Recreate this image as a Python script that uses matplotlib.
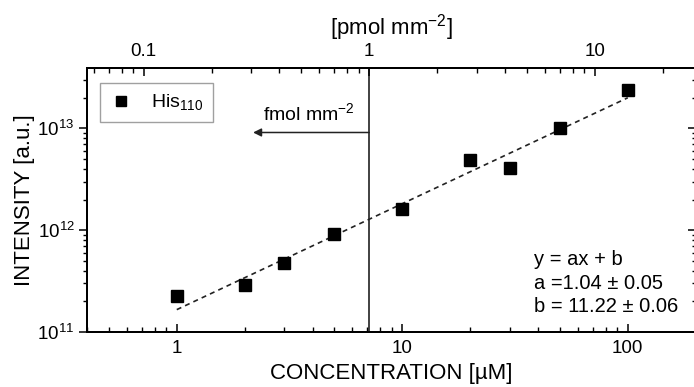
import matplotlib
matplotlib.use("Agg")
import matplotlib.pyplot as plt
import numpy as np
from matplotlib.ticker import LogLocator, NullFormatter, FixedLocator, FixedFormatter

plt.rcParams['font.family'] = ['Liberation Sans', 'DejaVu Sans']
plt.rcParams['mathtext.fontset'] = 'custom'
plt.rcParams['mathtext.rm'] = 'Liberation Sans'
plt.rcParams['mathtext.it'] = 'Liberation Sans:italic'
plt.rcParams['mathtext.bf'] = 'Liberation Sans:bold'

# Data
concentration = [1, 2, 3, 5, 10, 20, 30, 50, 100]          # µM
intensity = [2.25e11, 2.9e11, 4.8e11, 9.2e11, 1.6e12, 4.85e12, 4.1e12, 1.01e13, 2.4e13]
fit_a, fit_b = 1.04, 11.22
fit_x = [1, 100]
conv = 7.13   # µM per pmol mm^-2 (top axis conversion)
top_ticks = [0.1, 1, 10]
top_labels = ["0.1", "1", "10"]
bottom_ticks = [1, 10, 100]
bottom_labels = ["1", "10", "100"]

xlim = (0.4, 200)
ylim = (1e11, 3.9e13)

fig = plt.figure(figsize=(6.94, 3.87), dpi=100)
ax = fig.add_axes([0.1254, 0.142, 0.877, 0.682])
ax.set_xscale('log')
ax.set_yscale('log')
ax.set_xlim(*xlim)
ax.set_ylim(*ylim)

fx = np.array(fit_x, dtype=float)
ax.plot(fx, 10 ** (fit_a * np.log10(fx) + fit_b), ls=(0, (3, 2.5)), color='#222222', lw=1.2, zorder=2)
ax.plot(concentration, intensity, 's', color='black', ms=9.2, label='His$_{110}$', zorder=3)

# vertical line at 1 pmol mm^-2
ax.axvline(conv * 1, color='#333333', lw=1.3, zorder=1)
ax.annotate('', xy=(2.18, 9.1e12), xytext=(conv, 9.1e12),
            arrowprops=dict(arrowstyle='-|>', color='#222222', lw=1.1,
                            mutation_scale=12, shrinkA=0, shrinkB=0))
ax.text(3.85, 1.4e13, 'fmol mm$^{-2}$', fontsize=14, ha='center', va='center')

ax.text(0.735, 0.31, 'y = ax + b\na =1.04 ± 0.05\nb = 11.22 ± 0.06',
        transform=ax.transAxes, fontsize=14.5, ha='left', va='top', linespacing=1.3)

leg = ax.legend(loc='upper left', bbox_to_anchor=(0.022, 0.945), fontsize=14,
                frameon=True, fancybox=False, edgecolor='#888888', handletextpad=1.0,
                borderpad=0.5, handlelength=1.1, markerscale=0.85, borderaxespad=0)
leg.get_frame().set_linewidth(1.0)

ax.set_xticks(bottom_ticks)
ax.set_xticklabels(bottom_labels)
ax.xaxis.set_minor_locator(LogLocator(base=10, subs=np.arange(2, 10)))
ax.xaxis.set_minor_formatter(NullFormatter())
ax.yaxis.set_major_locator(LogLocator(base=10, numticks=10))
ax.yaxis.set_minor_locator(LogLocator(base=10, subs=np.arange(2, 10), numticks=10))
ax.yaxis.set_minor_formatter(NullFormatter())

ax.tick_params(axis='x', which='major', direction='in', length=6, width=1.1, labelsize=13.5, pad=6)
ax.tick_params(axis='x', which='minor', direction='in', length=3.5, width=1.0)
ax.tick_params(axis='y', which='major', direction='out', length=6, width=1.1, labelsize=13.5, pad=3)
ax.tick_params(axis='y', which='minor', direction='out', length=3, width=1.0)

ax.set_xlabel('CONCENTRATION [µM]', fontsize=16, labelpad=4)
ax.set_ylabel('INTENSITY [a.u.]', fontsize=16, labelpad=2)

for s in ax.spines.values():
    s.set_linewidth(1.3)

# right axis ticks (inward)
axr = ax.twinx()
axr.set_yscale('log')
axr.set_ylim(*ylim)
axr.yaxis.set_major_locator(LogLocator(base=10, numticks=10))
axr.yaxis.set_minor_locator(LogLocator(base=10, subs=np.arange(2, 10), numticks=10))
axr.yaxis.set_major_formatter(NullFormatter())
axr.yaxis.set_minor_formatter(NullFormatter())
axr.tick_params(axis='y', which='major', direction='in', length=6, width=1.1)
axr.tick_params(axis='y', which='minor', direction='in', length=3, width=1.0)

# top axis in pmol mm^-2
axt = ax.twiny()
axt.set_xscale('log')
axt.set_xlim(xlim[0] / conv, xlim[1] / conv)
axt.xaxis.set_major_locator(FixedLocator(top_ticks))
axt.xaxis.set_major_formatter(FixedFormatter(top_labels))
axt.xaxis.set_minor_locator(LogLocator(base=10, subs=np.arange(2, 10)))
axt.xaxis.set_minor_formatter(NullFormatter())
axt.tick_params(axis='x', which='major', direction='in', length=6, width=1.1, labelsize=13.5, pad=6)
axt.tick_params(axis='x', which='minor', direction='in', length=3.5, width=1.0)
axt.set_xlabel('[pmol mm$^{-2}$]', fontsize=16, labelpad=6)
for a in (axr, axt):
    for s in a.spines.values():
        s.set_linewidth(1.3)

fig.savefig('out.png', dpi=100)
